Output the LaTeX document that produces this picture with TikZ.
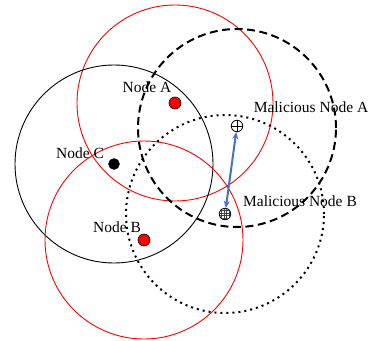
\documentclass[tikz,border=0pt]{standalone}
\usepackage{fontspec}
\setmainfont{Liberation Serif}
\usetikzlibrary{arrows.meta}
\definecolor{arrowblue}{RGB}{68,114,196}
\begin{document}
\begin{tikzpicture}[x=1pt,y=-1pt,
  rangeline/.style={line width=0.9pt},
  redrange/.style={rangeline,draw=red},
  blackrange/.style={rangeline,draw=black},
  dashrange/.style={line width=2pt,dash pattern=on 8pt off 4.5pt},
  dotrange/.style={line width=2pt,dash pattern=on 2pt off 4pt},
  reddot/.style={circle,draw=black,fill=red,minimum size=12pt,inner sep=0pt,line width=0.6pt},
  blackdot/.style={circle,draw=black,fill=black,minimum size=11pt,inner sep=0pt},
  malsym/.style={circle,draw=black,fill=white,minimum size=11.5pt,inner sep=0pt,line width=0.8pt},
  lbl/.style={font=\fontsize{15.5}{18}\selectfont,inner sep=0pt}
]
\useasboundingbox (0,0) rectangle (371,340);
% centres
\coordinate (cA) at (175,103);
\coordinate (cC) at (114,164);
\coordinate (cB) at (144,240);
\coordinate (cMA) at (237,126);
\coordinate (cMB) at (225,214);
% ranges
\draw[redrange] (cA) circle[radius=98pt];
\draw[blackrange] (cC) circle[radius=99pt];
\draw[redrange] (cB) circle[radius=99pt];
\draw[dashrange] (237,128) circle[radius=99pt];
\draw[dotrange] (cMB) circle[radius=99pt];
% nodes
\node[reddot] (nA) at (cA) {};
\node[blackdot] (nC) at (cC) {};
\node[reddot] (nB) at (cB) {};
\node[malsym] (mA) at (cMA) {};
\draw[line width=0.8pt] (mA.north) -- (mA.south) (mA.west) -- (mA.east);
\node[malsym] (mB) at (cMB) {};
\begin{scope}
  \clip (cMB) circle[radius=5.5pt];
  \foreach \d in {-3.75,-1.25,1.25,3.75} {
    \draw[line width=0.45pt,black!75] ([xshift=\d pt]mB.north) -- ([xshift=\d pt]mB.south);
    \draw[line width=0.45pt,black!75] ([yshift=\d pt]mB.west) -- ([yshift=\d pt]mB.east);
  }
\end{scope}
\draw[arrowblue,line width=2pt,{Stealth[length=7pt,width=6pt]}-{Stealth[length=7pt,width=6pt]}] (mB) -- (mA);
% labels
\node[lbl] (tA) at (147,87) {Node A};
\node[lbl] (tC) at (80,153) {Node C};
\node[lbl] (tB) at (117,227) {Node B};
\node[lbl] (tMA) at (311,107) {Malicious Node A};
\node[lbl] (tMB) at (300,201) {Malicious Node B};
\end{tikzpicture}
\end{document}
